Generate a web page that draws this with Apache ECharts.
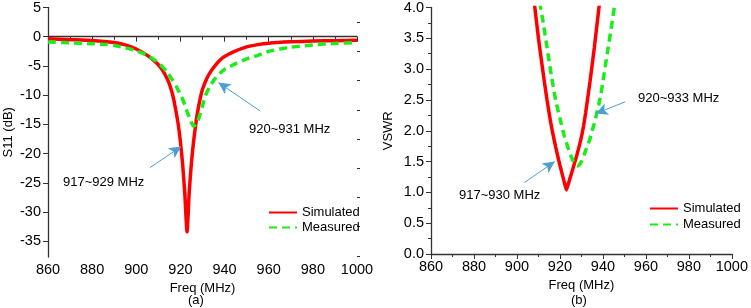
<!DOCTYPE html>
<html>
<head>
<meta charset="utf-8">
<script src="https://cdn.jsdelivr.net/npm/echarts@6/dist/echarts.min.js"></script>
<style>
  html, body { margin: 0; padding: 0; background: #fff; }
  #chart { width: 751px; height: 308px; }
</style>
</head>
<body>
<div id="chart"></div>
<script>
// (a) S11 in dB
const s11SimFreq = [860, 870, 880, 890, 895, 900, 905, 908, 910, 912, 914, 915, 916, 917, 918, 919, 920, 921, 922, 923,
  924, 925, 926, 927, 928, 929, 930, 932, 934, 936, 938, 940, 944, 950, 955, 960, 970, 980, 990, 1000]
const s11Sim = [-0.35, -0.5, -0.65, -1.0, -1.4, -2.1, -3.2, -4.1, -4.8, -5.8, -7.2, -8.1, -9.3, -10.8, -12.8, -15.0, -18.0, -21.8, -27.0, -33.4,
  -26.5, -21.5, -17.8, -14.8, -12.4, -10.5, -9.0, -7.1, -5.8, -4.8, -4.0, -3.4, -2.6, -1.75, -1.35, -1.1, -0.88, -0.75, -0.67, -0.6]
const s11MeasFreq = [860, 870, 880, 887, 890, 895, 900, 905, 908, 910, 912, 914, 916, 918, 920, 921, 922, 923, 924, 925,
  926, 927, 928, 929, 930, 931, 932, 934, 936, 938, 940, 945, 950, 955, 960, 965, 970, 980, 990, 1000]
const s11Meas = [-0.9, -1.05, -1.2, -1.35, -1.5, -1.9, -2.4, -3.2, -3.9, -4.5, -5.2, -6.1, -7.2, -8.4, -9.9, -10.7, -11.7, -12.8, -13.8, -14.7,
  -15.3, -15.0, -14.3, -13.1, -11.8, -10.5, -9.5, -8.1, -7.0, -6.2, -5.6, -4.6, -3.8, -3.2, -2.5, -2.1, -1.8, -1.4, -1.15, -1.0]

// (b) VSWR
const vswrSimFreq = [907, 908, 910, 912, 914, 916, 918, 920, 922, 923, 924, 926, 928, 930, 931, 932, 934, 936, 938, 939]
const vswrSim = [4.4, 4.1, 3.5, 2.98, 2.5, 2.08, 1.74, 1.44, 1.17, 1.04, 1.15, 1.38, 1.62, 1.9, 2.08, 2.3, 2.8, 3.35, 3.95, 4.25]
const vswrMeasFreq = [910, 911, 912, 914, 916, 918, 920, 922, 924, 926, 928, 929, 930, 932, 934, 935, 936, 938, 939, 940, 942, 944, 945.5, 946.5]
const vswrMeas = [4.3, 4.0, 3.8, 3.35, 2.9, 2.5, 2.2, 1.92, 1.7, 1.52, 1.43, 1.45, 1.5, 1.68, 1.87, 2.0, 2.12, 2.42, 2.58, 2.8, 3.25, 3.7, 4.05, 4.3]

const s11MajorTicks = [5, 0, -5, -10, -15, -20, -25, -30, -35]
const s11MinorTicks = [2.5, -2.5, -7.5, -12.5, -17.5, -22.5, -27.5, -32.5, -37.5]

const font = "'Liberation Sans', Arial, sans-serif"
const red = '#ff0000'
const green = '#1aee1a'
const arrowColor = '#4b9fd2'

function zip(xs, ys) {
  return xs.map((x, i) => [x, ys[i]])
}

function xAxisCfg(gridIndex) {
  return {
    type: 'value',
    gridIndex,
    min: 860,
    max: 1000,
    interval: 20,
    name: 'Freq (MHz)',
    nameLocation: 'middle',
    nameGap: 21,
    nameTextStyle: { fontFamily: font, fontSize: 13, color: '#000' },
    axisLine: { lineStyle: { color: '#333', width: 1.3 } },
    axisTick: { length: 5, lineStyle: { color: '#333' } },
    minorTick: { show: true, splitNumber: 2, length: 3, lineStyle: { color: '#333' } },
    axisLabel: { fontFamily: font, fontSize: 14.5, color: '#000', margin: 5, formatter: v => String(v) },
    splitLine: { show: false }
  }
}

function refLine(xAxisIndex, yAxisIndex, level, arrows) {
  const data = [[{ coord: [860, level] }, { coord: [1005.5, level] }]]
  arrows.forEach(a => data.push([
    { coord: a[0], lineStyle: { color: arrowColor, type: 'solid', width: 1 }, symbol: 'none' },
    { coord: a[1], symbol: 'arrow', symbolSize: [9, 12] }
  ]))
  return {
    type: 'line',
    xAxisIndex,
    yAxisIndex,
    data: [],
    clip: false,
    silent: true,
    markLine: {
      silent: true,
      symbol: ['none', 'none'],
      label: { show: false },
      lineStyle: { color: '#888', type: [1.5, 2], width: 1 },
      animation: false,
      data
    }
  }
}

function curve(name, xi, yi, color, dashed, data) {
  return {
    name, type: 'line', xAxisIndex: xi, yAxisIndex: yi, showSymbol: false, symbol: 'none',
    smooth: 0.2,
    lineStyle: { color, width: 3.5, type: dashed ? [8, 5] : 'solid' }, itemStyle: { color },
    data
  }
}

const legendCfg = {
  orient: 'vertical', itemWidth: 28, itemHeight: 10,
  itemStyle: { opacity: 0 },
  textStyle: { fontFamily: font, fontSize: 13, color: '#000' },
  data: ['Simulated', 'Measured']
}

const chart = echarts.init(document.getElementById('chart'))
chart.setOption({
  animation: false,
  grid: [
    { left: 48, right: 394, top: 6, bottom: 51 },
    { left: 431, right: 14, top: 7, bottom: 54 }
  ],
  xAxis: [xAxisCfg(0), xAxisCfg(1)],
  yAxis: [
    {
      type: 'value',
      gridIndex: 0,
      min: -37.7,
      max: 5,
      name: 'S11 (dB)',
      nameLocation: 'middle',
      nameGap: 33,
      nameTextStyle: { fontFamily: font, fontSize: 13, color: '#000' },
      axisLine: { lineStyle: { color: '#333', width: 1.3 } },
      axisTick: { length: 5, customValues: s11MajorTicks, lineStyle: { color: '#333' } },
      axisLabel: { fontFamily: font, fontSize: 14.5, color: '#000', margin: 7, customValues: s11MajorTicks },
      splitLine: { show: false }
    },
    {
      // minor ticks only
      type: 'value',
      gridIndex: 0,
      min: -37.7,
      max: 5,
      axisLine: { show: false },
      axisTick: { length: 3, customValues: s11MinorTicks, lineStyle: { color: '#333' } },
      axisLabel: { show: false },
      splitLine: { show: false }
    },
    {
      type: 'value',
      gridIndex: 1,
      min: 0,
      max: 4,
      interval: 0.5,
      name: 'VSWR',
      nameLocation: 'middle',
      nameGap: 36,
      nameTextStyle: { fontFamily: font, fontSize: 13, color: '#000' },
      axisLine: { lineStyle: { color: '#333', width: 1.3 } },
      axisTick: { length: 5, lineStyle: { color: '#333' } },
      minorTick: { show: true, splitNumber: 2, length: 3, lineStyle: { color: '#333' } },
      axisLabel: { fontFamily: font, fontSize: 14.5, color: '#000', margin: 7, formatter: v => v.toFixed(1) },
      splitLine: { show: false }
    }
  ],
  legend: [
    Object.assign({ left: 263, top: 201, itemGap: 2 }, legendCfg),
    Object.assign({ left: 644, top: 197, itemGap: 3 }, legendCfg)
  ],
  series: [
    refLine(0, 0, -10, [[[906.2, -22.4], [920.3, -18.8]], [[956.1, -12.7], [937.2, -7.85]]]),
    refLine(1, 2, 2.0, [[[950.4, 2.47], [936.7, 2.28]], [[903.5, 1.16], [917.6, 1.5]]]),
    curve('Simulated', 0, 0, red, false, zip(s11SimFreq, s11Sim)),
    curve('Measured', 0, 0, green, true, zip(s11MeasFreq, s11Meas)),
    curve('Simulated', 1, 2, red, false, zip(vswrSimFreq, vswrSim)),
    curve('Measured', 1, 2, green, true, zip(vswrMeasFreq, vswrMeas))
  ],
  graphic: [
    { type: 'text', left: 63, top: 176, style: { text: '917~929 MHz', font: '13px ' + font, fill: '#000' } },
    { type: 'text', left: 249, top: 123, style: { text: '920~931 MHz', font: '13px ' + font, fill: '#000' } },
    { type: 'text', left: 638, top: 92, style: { text: '920~933 MHz', font: '13px ' + font, fill: '#000' } },
    { type: 'text', left: 459, top: 189, style: { text: '917~930 MHz', font: '13px ' + font, fill: '#000' } },
    { type: 'text', left: 188, top: 294, style: { text: '(a)', font: '13px ' + font, fill: '#000' } },
    { type: 'text', left: 571, top: 294, style: { text: '(b)', font: '13px ' + font, fill: '#000' } }
  ]
})
</script>
</body>
</html>
